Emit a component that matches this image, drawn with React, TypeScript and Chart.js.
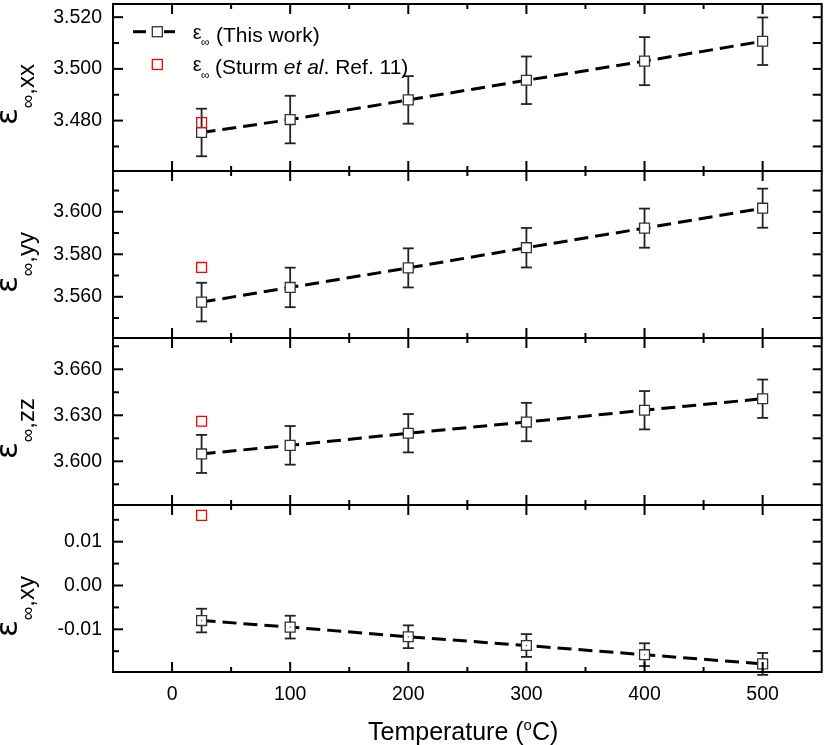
import React, { useEffect, useRef } from 'react';
import { Chart, registerables } from 'chart.js';

Chart.register(...registerables);

const FONT = "'Liberation Sans', Arial, Helvetica, sans-serif";

// ---------- data ----------
const temperatures = [25, 100, 200, 300, 400, 500];
const sturmTemperature = 25;

const epsXX = [3.4754, 3.4804, 3.488, 3.4956, 3.503, 3.5107];
const errXX = [0.0092, 0.0092, 0.0092, 0.0092, 0.0093, 0.0092];
const sturmXX = 3.4792;

const epsYY = [3.5575, 3.5644, 3.5736, 3.5831, 3.5923, 3.6017];
const errYY = [0.0091, 0.0093, 0.0092, 0.0093, 0.0092, 0.0092];
const sturmYY = 3.5738;

const epsZZ = [3.6048, 3.6104, 3.6183, 3.6256, 3.6333, 3.6408];
const errZZ = [0.0124, 0.0126, 0.0125, 0.0125, 0.0125, 0.0125];
const sturmZZ = 3.6261;

const epsXY = [-0.008, -0.0095, -0.0117, -0.0137, -0.0158, -0.0179];
const errXY = [0.0027, 0.0026, 0.0026, 0.0026, 0.0026, 0.0025];
const sturmXY = 0.016;

const xMajorTicks = [0, 100, 200, 300, 400, 500];
const xMinorTicks = [50, 150, 250, 350, 450];

const yMajorXX = [3.48, 3.5, 3.52];
const yMinorXX = [3.47, 3.49, 3.51];
const yMajorYY = [3.56, 3.58, 3.6];
const yMinorYY = [3.55, 3.57, 3.59, 3.61];
const yMajorZZ = [3.6, 3.63, 3.66];
const yMinorZZ = [3.585, 3.615, 3.645, 3.675];
const yMajorXY = [-0.01, 0.0, 0.01];
const yMinorXY = [-0.015, -0.005, 0.005, 0.015];

const panels = [
  { sub: ',xx', values: epsXX, errors: errXX, sturm: sturmXX, min: 3.4605, max: 3.5251, major: yMajorXX, minor: yMinorXX, decimals: 3 },
  { sub: ',yy', values: epsYY, errors: errYY, sturm: sturmYY, min: 3.5406, max: 3.6192, major: yMajorYY, minor: yMinorYY, decimals: 3 },
  { sub: ',zz', values: epsZZ, errors: errZZ, sturm: sturmZZ, min: 3.5715, max: 3.6804, major: yMajorZZ, minor: yMinorZZ, decimals: 3 },
  { sub: ',xy', values: epsXY, errors: errXY, sturm: sturmXY, min: -0.01975, max: 0.01838, major: yMajorXY, minor: yMinorXY, decimals: 2 },
];

// ---------- layout / style ----------
const EDGES = [4, 171, 338, 505, 672];
const TITLE_START = [125, 293, 459, 637];
const PAD = 10;
const W = 830;
const H = 745;

function line(ctx: CanvasRenderingContext2D, x1: number, y1: number, x2: number, y2: number) {
  ctx.beginPath();
  ctx.moveTo(x1, y1);
  ctx.lineTo(x2, y2);
  ctx.stroke();
}

function drawYTitle(ctx: CanvasRenderingContext2D, sub: string, cx: number, startY: number) {
  ctx.save();
  ctx.translate(cx, startY);
  ctx.rotate(-Math.PI / 2);
  ctx.fillStyle = '#000';
  ctx.textAlign = 'left';
  ctx.textBaseline = 'alphabetic';
  ctx.font = `31px 'DejaVu Sans', ${FONT}`;
  ctx.fillText('ε', 0, 0);
  let x = ctx.measureText('ε').width;
  ctx.font = `19px ${FONT}`;
  ctx.fillText('∞', x, 17);
  x += ctx.measureText('∞').width;
  ctx.font = `24px ${FONT}`;
  ctx.fillText(sub, x, 17);
  ctx.restore();
}

function makePlugin(p: any, i: number, canvasTop: number) {
  const cy = (py: number) => py - canvasTop;
  return {
    id: 'decor' + i,
    beforeDatasetsDraw(chart: any) {
      const ctx = chart.ctx as CanvasRenderingContext2D;
      const xs = chart.scales.x;
      const ys = chart.scales.y;
      ctx.save();
      ctx.strokeStyle = '#222';
      ctx.lineWidth = 1.8;
      temperatures.forEach((t, k) => {
        const px = xs.getPixelForValue(t);
        const yt = ys.getPixelForValue(p.values[k] + p.errors[k]);
        const yb = ys.getPixelForValue(p.values[k] - p.errors[k]);
        line(ctx, px, yt, px, yb);
        line(ctx, px - 5.5, yt, px + 5.5, yt);
        line(ctx, px - 5.5, yb, px + 5.5, yb);
      });
      ctx.restore();
    },
    afterDatasetsDraw(chart: any) {
      if (i !== 3) return;
      const ctx = chart.ctx as CanvasRenderingContext2D;
      const xs = chart.scales.x;
      const ys = chart.scales.y;
      ctx.save();
      ctx.fillStyle = '#444';
      temperatures.forEach((t, k) => {
        const px = xs.getPixelForValue(t);
        const py = ys.getPixelForValue(p.values[k]);
        ctx.fillRect(px - 0.6, py - 0.6, 1.2, 1.2);
      });
      ctx.restore();
    },
    afterDraw(chart: any) {
      const ctx = chart.ctx as CanvasRenderingContext2D;
      const xs = chart.scales.x;
      const ys = chart.scales.y;
      const { left, right, top, bottom } = chart.chartArea;
      ctx.save();
      ctx.strokeStyle = '#000';
      ctx.lineWidth = 2;
      xMajorTicks.forEach((v) => {
        const px = xs.getPixelForValue(v);
        line(ctx, px, top, px, top + 10);
        line(ctx, px, bottom, px, bottom - 10);
      });
      xMinorTicks.forEach((v) => {
        const px = xs.getPixelForValue(v);
        line(ctx, px, top, px, top + 5);
        line(ctx, px, bottom, px, bottom - 5);
      });
      p.major.forEach((v: number) => {
        const py = ys.getPixelForValue(v);
        line(ctx, left, py, left + 10, py);
        line(ctx, right, py, right - 9, py);
      });
      p.minor.forEach((v: number) => {
        const py = ys.getPixelForValue(v);
        line(ctx, left, py, left + 6, py);
        line(ctx, right, py, right - 9, py);
      });
      ctx.strokeRect(left, top, right - left, bottom - top);
      ctx.restore();

      drawYTitle(ctx, p.sub, 17, cy(TITLE_START[i]));

      if (i === 0) {
        // legend
        ctx.save();
        const r1 = 31.7;
        const r2 = 64.5;
        ctx.strokeStyle = '#000';
        ctx.lineWidth = 3;
        line(ctx, 133, cy(r1), 146, cy(r1));
        line(ctx, 164, cy(r1), 175, cy(r1));
        ctx.lineWidth = 1.3;
        ctx.strokeStyle = '#333';
        ctx.fillStyle = '#fff';
        ctx.fillRect(152.3, cy(r1) - 5, 10, 10);
        ctx.strokeRect(152.3, cy(r1) - 5, 10, 10);
        ctx.strokeStyle = '#ff0000';
        ctx.strokeRect(152.3, cy(r2) - 5, 10, 10);
        ctx.fillStyle = '#000';
        ctx.textAlign = 'left';
        ctx.textBaseline = 'alphabetic';
        const rows = [{ base: 41.7 }, { base: 74.2 }];
        rows.forEach((r) => {
          ctx.font = `20px ${FONT}`;
          ctx.fillText('ε', 192.7, cy(r.base - 3.2));
          ctx.font = `12px ${FONT}`;
          ctx.fillText('∞', 201, cy(r.base + 4.3));
        });
        ctx.font = `21px ${FONT}`;
        ctx.fillText('(This work)', 216, cy(rows[0].base));
        let x = 215;
        ctx.fillText('(Sturm ', x, cy(rows[1].base));
        x += ctx.measureText('(Sturm ').width;
        ctx.font = `italic 21px ${FONT}`;
        ctx.fillText('et al', x, cy(rows[1].base));
        x += ctx.measureText('et al').width;
        ctx.font = `21px ${FONT}`;
        ctx.fillText('. Ref. 11)', x, cy(rows[1].base));
        ctx.restore();
      }

      if (i === 3) {
        ctx.save();
        ctx.fillStyle = '#000';
        ctx.textAlign = 'left';
        ctx.textBaseline = 'alphabetic';
        let x = 368;
        const base = cy(740);
        ctx.font = `25px ${FONT}`;
        ctx.fillText('Temperature (', x, base);
        x += ctx.measureText('Temperature (').width;
        ctx.font = `15px ${FONT}`;
        ctx.fillText('o', x, base - 10);
        x += ctx.measureText('o').width;
        ctx.font = `25px ${FONT}`;
        ctx.fillText('C)', x, base);
        ctx.restore();
      }
    },
  };
}

function buildConfig(p: any, i: number): any {
  const isBottom = i === 3;
  const canvasTop = EDGES[i] - PAD;
  return {
    type: 'scatter',
    data: {
      datasets: [
        {
          label: 'Sturm et al. Ref. 11',
          data: [{ x: sturmTemperature, y: p.sturm }],
          showLine: false,
          pointStyle: 'rect',
          pointRadius: 7,
          pointBorderColor: '#ff0000',
          pointBackgroundColor: 'rgba(0,0,0,0)',
          pointBorderWidth: 1.3,
        },
        {
          label: 'This work',
          data: temperatures.map((t, k) => ({ x: t, y: p.values[k] })),
          showLine: true,
          borderColor: '#000',
          borderWidth: 3,
          borderDash: [14, 7],
          tension: 0,
          fill: false,
          pointStyle: 'rect',
          pointRadius: 7,
          pointBorderColor: '#333',
          pointBackgroundColor: '#fff',
          pointBorderWidth: 1.3,
        },
      ],
    },
    options: {
      responsive: false,
      maintainAspectRatio: false,
      animation: false,
      events: [],
      layout: { padding: { top: PAD, bottom: isBottom ? 0 : PAD, left: 0, right: 5 } },
      plugins: { legend: { display: false }, tooltip: { enabled: false }, title: { display: false } },
      scales: {
        x: {
          type: 'linear',
          min: -50,
          max: 550,
          bounds: 'data',
          display: isBottom,
          grid: { display: false, drawTicks: false },
          border: { display: false },
          afterBuildTicks: (s: any) => {
            s.ticks = xMajorTicks.map((v) => ({ value: v }));
          },
          afterFit: (s: any) => {
            s.height = isBottom ? H - EDGES[4] : 0;
            s.paddingLeft = 0;
            s.paddingRight = 0;
            s.paddingTop = 0;
            s.paddingBottom = 0;
          },
          ticks: {
            padding: 11,
            color: '#000',
            font: { family: FONT, size: 19.5 },
            maxRotation: 0,
            autoSkip: false,
            callback: (v: any) => String(v),
          },
        },
        y: {
          type: 'linear',
          min: p.min,
          max: p.max,
          bounds: 'data',
          grid: { display: false, drawTicks: false },
          border: { display: false },
          afterBuildTicks: (s: any) => {
            s.ticks = p.major.map((v: number) => ({ value: v }));
          },
          afterFit: (s: any) => {
            s.width = 113;
            s.paddingTop = 0;
            s.paddingBottom = 0;
            s.paddingLeft = 0;
            s.paddingRight = 0;
          },
          ticks: {
            padding: 11,
            color: '#000',
            font: { family: FONT, size: 19.5 },
            autoSkip: false,
            callback: (v: any) => Number(v).toFixed(p.decimals),
          },
        },
      },
    },
    plugins: [makePlugin(p, i, canvasTop)],
  };
}

export default function App() {
  const r0 = useRef<HTMLCanvasElement>(null);
  const r1 = useRef<HTMLCanvasElement>(null);
  const r2 = useRef<HTMLCanvasElement>(null);
  const r3 = useRef<HTMLCanvasElement>(null);
  const refs = [r0, r1, r2, r3];

  useEffect(() => {
    const charts = panels.map((p, i) => new Chart(refs[i].current as HTMLCanvasElement, buildConfig(p, i)));
    return () => charts.forEach((c) => c.destroy());
  }, []);

  return (
    <div style={{ position: 'absolute', left: 0, top: 0, width: W, height: H, background: '#fff', overflow: 'hidden' }}>
      {panels.map((_, i) => {
        const top = EDGES[i] - PAD;
        const h = i === 3 ? H - top : EDGES[i + 1] - EDGES[i] + 2 * PAD;
        return (
          <canvas
            key={i}
            ref={refs[i]}
            width={W}
            height={h}
            style={{ position: 'absolute', left: 0, top, width: W, height: h, display: 'block' }}
          />
        );
      })}
    </div>
  );
}
